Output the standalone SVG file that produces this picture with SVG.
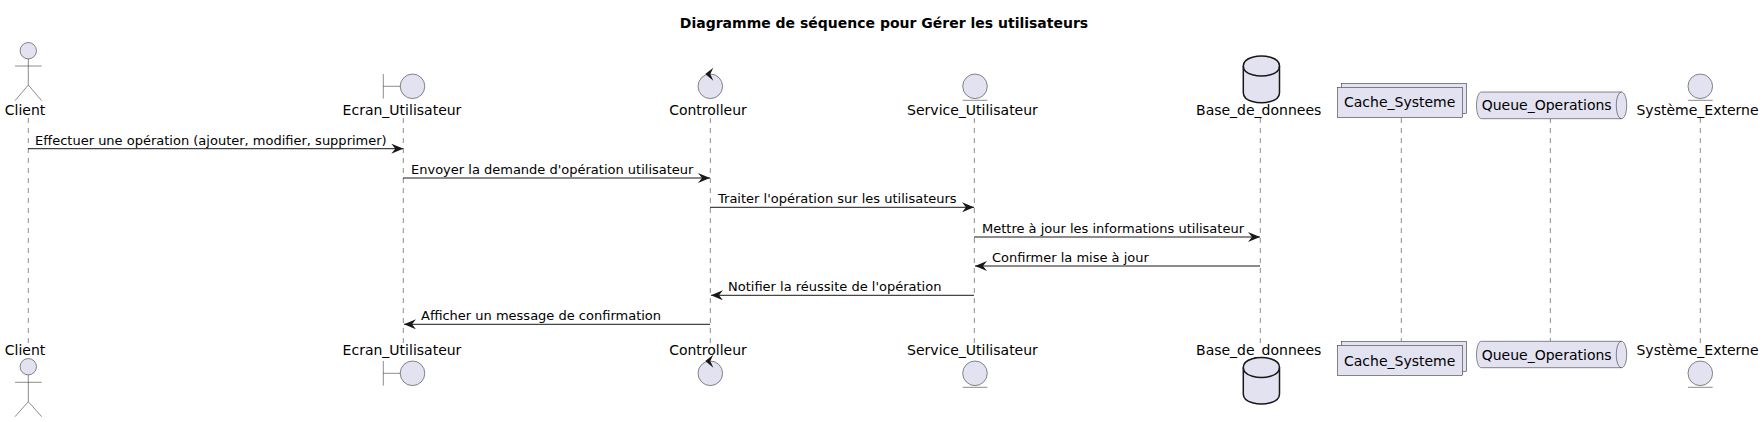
<svg xmlns="http://www.w3.org/2000/svg" width="1764" height="422" viewBox="0 0 1764 422">
<defs>
<marker id="arr" markerUnits="userSpaceOnUse" viewBox="0 0 12 10" refX="12" refY="5" markerWidth="12" markerHeight="10" orient="auto"><path d="M0,0 L12,5 L0,10 L4,5 Z" fill="#181818"/></marker>
<path id="ctrl" d="M-5,-12.3 L3,-18.5 L0,-12.3 L3,-5.5 Z" fill="#181818"/>
</defs>
<style>
text{font-family:"DejaVu Sans",sans-serif;font-size:14px;fill:#000}
.t{font-size:13px}
.s{fill:#E2E2F0;stroke:#181818;stroke-width:.5}
.b{fill:#E2E2F0;stroke:#181818;stroke-width:.5}
.l{fill:none;stroke:#181818;stroke-width:.5}
.db{fill:#E2E2F0;stroke:#181818;stroke-width:1.5}
.life{stroke:#181818;stroke-width:.5;stroke-dasharray:5,5}
.m{stroke:#181818;stroke-width:1;marker-end:url(#arr)}
.c{text-anchor:middle}
</style>
<rect width="1764" height="422" fill="#fff"/>
<text x="884" y="28" text-anchor="middle" style="font-weight:bold">Diagramme de séquence pour Gérer les utilisateurs</text>
<g id="lifelines">
<line class="life" x1="28.3" y1="118" x2="28.3" y2="343"/>
<line class="life" x1="403.3" y1="118" x2="403.3" y2="343"/>
<line class="life" x1="710.3" y1="118" x2="710.3" y2="343"/>
<line class="life" x1="974.3" y1="118" x2="974.3" y2="343"/>
<line class="life" x1="1260.3" y1="118" x2="1260.3" y2="343"/>
<line class="life" x1="1401.3" y1="118" x2="1401.3" y2="341"/>
<line class="life" x1="1550.3" y1="118" x2="1550.3" y2="341"/>
<line class="life" x1="1700.3" y1="118" x2="1700.3" y2="343"/>
</g>
<g id="connectors">
<line class="m" x1="28" y1="148.7" x2="403.3" y2="148.7"/>
<line class="m" x1="403" y1="178" x2="710" y2="178"/>
<line class="m" x1="710" y1="207.3" x2="974" y2="207.3"/>
<line class="m" x1="974" y1="237" x2="1260" y2="237"/>
<line class="m" x1="1260" y1="266" x2="975" y2="266"/>
<line class="m" x1="974" y1="295.3" x2="711" y2="295.3"/>
<line class="m" x1="710" y1="324.3" x2="404" y2="324.3"/>
<text class="t" x="35" y="144.7">Effectuer une opération (ajouter, modifier, supprimer)</text>
<text class="t" x="411" y="174">Envoyer la demande d'opération utilisateur</text>
<text class="t" x="718" y="203.3">Traiter l'opération sur les utilisateurs</text>
<text class="t" x="982" y="233">Mettre à jour les informations utilisateur</text>
<text class="t" x="992" y="262">Confirmer la mise à jour</text>
<text class="t" x="728" y="291.3">Notifier la réussite de l'opération</text>
<text class="t" x="421" y="320.3">Afficher un message de confirmation</text>
</g>
<g id="client">
<circle class="s" cx="28.3" cy="50.7" r="8.2"/>
<path class="l" d="M28.3,59V85M15,66H41.7M15,100.7L28.3,85L41.7,100.7"/>
<text class="c" x="25" y="115">Client</text>
<text class="c" x="25" y="355">Client</text>
<circle class="s" cx="28.3" cy="366.7" r="8.2"/>
<path class="l" d="M28.3,375V401.7M15,382.3H41.7M15,416.7L28.3,401.7L41.7,416.7"/>
</g>
<g id="ecran">
<circle class="s" cx="412.5" cy="86.3" r="12.3"/>
<path class="l" d="M383.3,74V98.5M383.3,86.3H400.2"/>
<text class="c" x="402" y="115">Ecran_Utilisateur</text>
<text class="c" x="402" y="355">Ecran_Utilisateur</text>
<circle class="s" cx="412.5" cy="373.3" r="12.3"/>
<path class="l" d="M383.3,361V385.6M383.3,373.3H400.2"/>
</g>
<g id="controlleur">
<circle class="s" cx="710.3" cy="86.3" r="12.3"/>
<use href="#ctrl" x="710.3" y="86.3"/>
<text class="c" x="708" y="115">Controlleur</text>
<text class="c" x="708" y="355">Controlleur</text>
<circle class="s" cx="710.3" cy="373.3" r="12.3"/>
<use href="#ctrl" x="710.3" y="373.3"/>
</g>
<g id="service">
<circle class="s" cx="975" cy="86.3" r="12.3"/>
<path class="l" d="M962.7,100.3H987.3"/>
<text class="c" x="972.5" y="115">Service_Utilisateur</text>
<text class="c" x="972.5" y="355">Service_Utilisateur</text>
<circle class="s" cx="975" cy="373.3" r="12.3"/>
<path class="l" d="M962.7,387.3H987.3"/>
</g>
<g id="base">
<path class="db" d="M1243.3,66C1243.3,56 1261.5,56 1261.5,56C1261.5,56 1279.5,56 1279.5,66V92.7C1279.5,102.7 1261.5,102.7 1261.5,102.7C1261.5,102.7 1243.3,102.7 1243.3,92.7Z"/>
<path class="l" style="stroke-width:1.5" d="M1243.3,66C1243.3,76 1261.5,76 1261.5,76C1261.5,76 1279.5,76 1279.5,66"/>
<text class="c" x="1258.7" y="115">Base_de_donnees</text>
<text class="c" x="1258.7" y="355">Base_de_donnees</text>
<path class="db" d="M1243.3,367.5C1243.3,357.5 1261.5,357.5 1261.5,357.5C1261.5,357.5 1279.5,357.5 1279.5,367.5V394C1279.5,404 1261.5,404 1261.5,404C1261.5,404 1243.3,404 1243.3,394Z"/>
<path class="l" style="stroke-width:1.5" d="M1243.3,367.5C1243.3,377.5 1261.5,377.5 1261.5,377.5C1261.5,377.5 1279.5,377.5 1279.5,367.5"/>
</g>
<g id="cache">
<rect class="b" x="1341.3" y="83.3" width="125.4" height="30.4"/>
<rect class="b" x="1337.3" y="87.3" width="125.4" height="30.4"/>
<text class="c" x="1399.7" y="107.3">Cache_Systeme</text>
<rect class="b" x="1341.3" y="341.3" width="125.4" height="30.4"/>
<rect class="b" x="1337.3" y="345.3" width="125.4" height="30.4"/>
<text class="c" x="1399.7" y="366">Cache_Systeme</text>
</g>
<g id="queue">
<path class="b" d="M1481.5,92H1621.5C1624.5,92 1626.7,98 1626.7,105.3C1626.7,112.7 1624.5,118.7 1621.5,118.7H1481.5C1478.5,118.7 1476.5,112.7 1476.5,105.3C1476.5,98 1478.5,92 1481.5,92Z"/>
<path class="l" d="M1621.5,92C1618.5,92 1616.3,98 1616.3,105.3C1616.3,112.7 1618.5,118.7 1621.5,118.7"/>
<text class="c" x="1546.7" y="110">Queue_Operations</text>
<path class="b" d="M1481.5,341.3H1621.5C1624.5,341.3 1626.7,347.3 1626.7,354.6C1626.7,362 1624.5,367.7 1621.5,367.7H1481.5C1478.5,367.7 1476.5,362 1476.5,354.6C1476.5,347.3 1478.5,341.3 1481.5,341.3Z"/>
<path class="l" d="M1621.5,341.3C1618.5,341.3 1616.3,347.3 1616.3,354.6C1616.3,362 1618.5,367.7 1621.5,367.7"/>
<text class="c" x="1546.7" y="360">Queue_Operations</text>
</g>
<g id="systeme">
<circle class="s" cx="1700.3" cy="86.3" r="12.3"/>
<path class="l" d="M1688,100.3H1712.7"/>
<text class="c" x="1697.5" y="115">Système_Externe</text>
<text class="c" x="1697.5" y="355">Système_Externe</text>
<circle class="s" cx="1700.3" cy="373.3" r="12.3"/>
<path class="l" d="M1688,387.3H1712.7"/>
</g>
</svg>
